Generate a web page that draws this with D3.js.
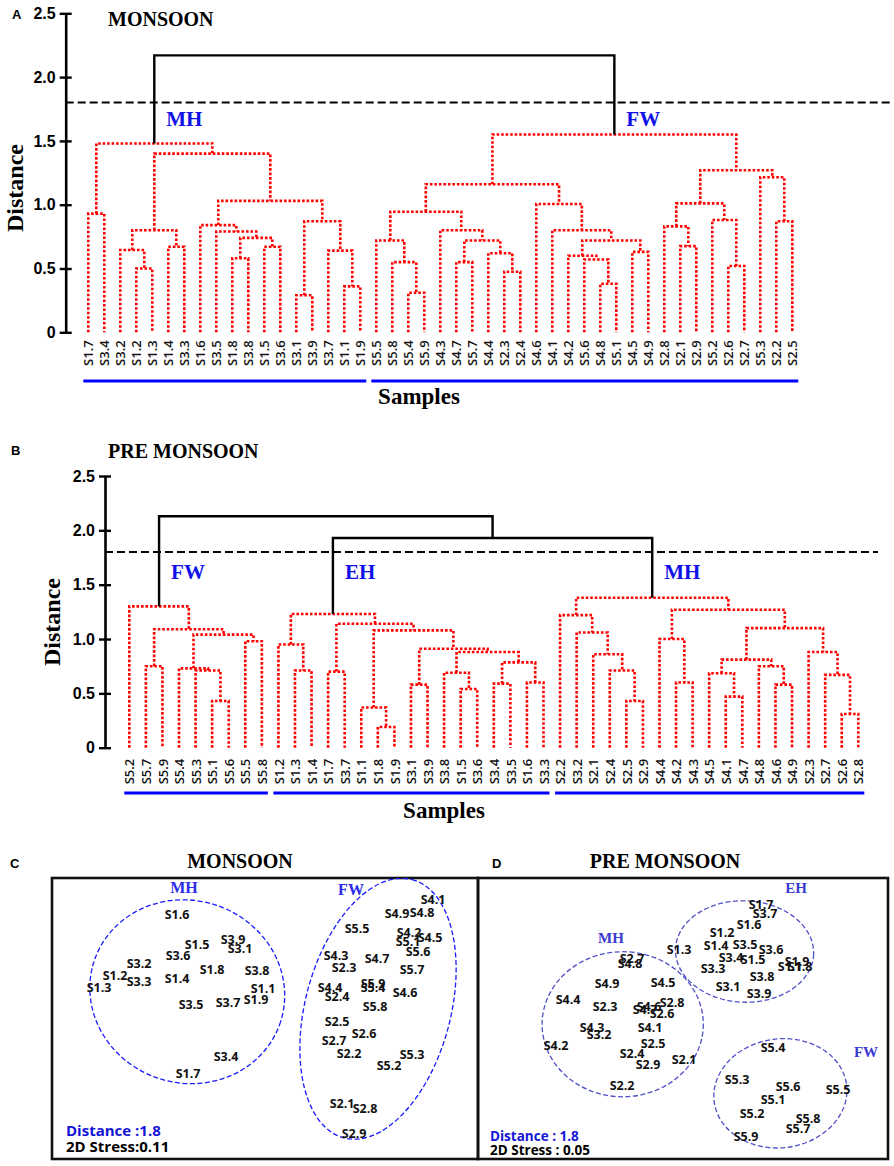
<!DOCTYPE html>
<html>
<head>
<meta charset="utf-8">
<script src="https://cdn.jsdelivr.net/npm/d3@7"></script>
<style>
  body { margin: 0; background: #fff; }
  svg { display: block; }
</style>
</head>
<body>
<svg id="fig" width="894" height="1166"></svg>
<script>
// ---------------- data ----------------
const distTicks = [0, 0.5, 1.0, 1.5, 2.0, 2.5];
const cutDistance = 1.8;

// A - monsoon dendrogram
const monsoonLeaves = ["S1.7","S3.4","S3.2","S1.2","S1.3","S1.4","S3.3","S1.6","S3.5","S1.8","S3.8","S1.5","S3.6","S3.1","S3.9","S3.7","S1.1","S1.9",
  "S5.5","S5.8","S5.4","S5.9","S4.3","S4.7","S5.7","S4.4","S2.3","S2.4","S4.6","S4.1","S4.2","S5.6","S4.8","S5.1","S4.5","S4.9",
  "S2.8","S2.1","S2.9","S5.2","S2.6","S2.7","S5.3","S2.2","S2.5"];
// [id, child, child, distance]
const monsoonMerges = [
  ["a1","S1.2","S1.3",0.50], ["a2","S3.2","a1",0.645], ["a3","S1.4","S3.3",0.67], ["a4","a2","a3",0.80],
  ["a5","S1.8","S3.8",0.58], ["a6","S1.5","S3.6",0.67], ["a7","a5","a6",0.74], ["a8","S3.5","a7",0.79],
  ["a9","S1.6","a8",0.84], ["a10","S3.1","S3.9",0.29], ["a11","S1.1","S1.9",0.36], ["a12","S3.7","a11",0.64],
  ["a13","a10","a12",0.87], ["a14","a9","a13",1.03], ["a15","a4","a14",1.40], ["a16","S1.7","S3.4",0.93],
  ["a17","a16","a15",1.48],
  ["b1","S5.4","S5.9",0.31], ["b2","S5.8","b1",0.55], ["b3","S5.5","b2",0.72], ["b4","S4.7","S5.7",0.55],
  ["b5","S2.3","S2.4",0.475], ["b6","S4.4","b5",0.62], ["b7","b4","b6",0.72], ["b8","S4.3","b7",0.80],
  ["b9","b3","b8",0.945], ["b10","S4.8","S5.1",0.38], ["b11","S5.6","b10",0.57], ["b12","S4.2","b11",0.60],
  ["b13","S4.5","S4.9",0.63], ["b14","b12","b13",0.72], ["b15","S4.1","b14",0.80], ["b16","S4.6","b15",1.005],
  ["b17","b9","b16",1.16], ["b18","S2.1","S2.9",0.675], ["b19","S2.8","b18",0.83], ["b20","S2.6","S2.7",0.52],
  ["b21","S5.2","b20",0.88], ["b22","b19","b21",1.01], ["b23","S2.2","S2.5",0.87], ["b24","S5.3","b23",1.215],
  ["b25","b22","b24",1.27], ["b26","b17","b25",1.55],
  ["top","a17","b26",2.17]
];
const monsoonUpper = ["top"];
const monsoonGroups = [["MH","a17"], ["FW","b26"]];

// B - pre monsoon dendrogram
const preLeaves = ["S5.2","S5.7","S5.9","S5.4","S5.3","S5.1","S5.6","S5.5","S5.8",
  "S1.2","S1.3","S1.4","S1.7","S3.7","S1.1","S1.8","S1.9","S3.1","S3.9","S3.8","S1.5","S3.6","S3.4","S3.5","S1.6","S3.3",
  "S2.2","S3.2","S2.1","S2.4","S2.5","S2.9","S4.4","S4.2","S4.3","S4.5","S4.1","S4.7","S4.8","S4.6","S4.9","S2.3","S2.7","S2.6","S2.8"];
const preMerges = [
  ["c1","S5.7","S5.9",0.75], ["c2","S5.1","S5.6",0.43], ["c3","S5.3","c2",0.71], ["c4","S5.4","c3",0.73],
  ["c5","S5.5","S5.8",0.98], ["c6","c4","c5",1.04], ["c7","c1","c6",1.09], ["c8","S5.2","c7",1.30],
  ["d1","S1.3","S1.4",0.71], ["d2","S1.2","d1",0.95], ["d3","S1.7","S3.7",0.70], ["d4","S1.8","S1.9",0.19],
  ["d5","S1.1","d4",0.37], ["d6","S3.1","S3.9",0.58], ["d7","S1.5","S3.6",0.54], ["d8","S3.8","d7",0.69],
  ["d9","S3.4","S3.5",0.59], ["d10","S1.6","S3.3",0.60], ["d11","d9","d10",0.785], ["d12","d8","d11",0.88],
  ["d13","d6","d12",0.91], ["d14","d5","d13",1.08], ["d15","d3","d14",1.14], ["d16","d2","d15",1.23],
  ["e1","S2.5","S2.9",0.43], ["e2","S2.4","e1",0.71], ["e3","S2.1","e2",0.86], ["e4","S3.2","e3",1.06],
  ["e5","S2.2","e4",1.22], ["e6","S4.2","S4.3",0.60], ["e7","S4.4","e6",1.00], ["e8","S4.1","S4.7",0.47],
  ["e9","S4.5","e8",0.685], ["e10","S4.6","S4.9",0.58], ["e11","S4.8","e10",0.75], ["e12","e9","e11",0.81],
  ["e13","S2.6","S2.8",0.31], ["e14","S2.7","e13",0.67], ["e15","S2.3","e14",0.88], ["e16","e12","e15",1.10],
  ["e17","e7","e16",1.27], ["e18","e5","e17",1.38],
  ["mid","d16","e18",1.93], ["top","c8","mid",2.13]
];
const preUpper = ["mid", "top"];
const preGroups = [["FW","c8"], ["EH","d16"], ["MH","e18"]];

// C - monsoon NMDS  [sample, group, dim1, dim2]
const monsoonNmds = [
  ["S1.6","MH",-0.88,1.04], ["S1.5","MH",-0.68,0.74], ["S3.9","MH",-0.32,0.79], ["S3.1","MH",-0.25,0.70],
  ["S3.6","MH",-0.87,0.63], ["S3.2","MH",-1.26,0.55], ["S1.8","MH",-0.53,0.49], ["S3.8","MH",-0.08,0.48],
  ["S1.2","MH",-1.50,0.43], ["S3.3","MH",-1.26,0.37], ["S1.4","MH",-0.88,0.40], ["S1.3","MH",-1.66,0.31],
  ["S1.1","MH",-0.02,0.30], ["S3.5","MH",-0.74,0.14], ["S3.7","MH",-0.37,0.16], ["S1.9","MH",-0.09,0.19],
  ["S3.4","MH",-0.39,-0.38], ["S1.7","MH",-0.77,-0.55],
  ["S4.1","FW",1.68,1.19], ["S4.9","FW",1.32,1.05], ["S4.8","FW",1.57,1.06], ["S5.5","FW",0.92,0.90],
  ["S4.2","FW",1.44,0.86], ["S5.1","FW",1.43,0.77], ["S4.5","FW",1.65,0.81], ["S5.6","FW",1.53,0.67],
  ["S4.3","FW",0.71,0.63], ["S4.7","FW",1.12,0.60], ["S2.3","FW",0.79,0.51], ["S5.7","FW",1.47,0.49],
  ["S4.4","FW",0.65,0.31], ["S5.9","FW",1.08,0.35], ["S5.4","FW",1.08,0.31], ["S4.6","FW",1.40,0.26],
  ["S2.4","FW",0.72,0.22], ["S5.8","FW",1.10,0.12], ["S2.5","FW",0.72,-0.03], ["S2.6","FW",0.99,-0.15],
  ["S2.7","FW",0.69,-0.22], ["S2.2","FW",0.84,-0.35], ["S5.3","FW",1.47,-0.36], ["S5.2","FW",1.24,-0.47],
  ["S2.1","FW",0.77,-0.85], ["S2.8","FW",1.00,-0.90], ["S2.9","FW",0.89,-1.15]
];
const monsoonNmdsGroups = [["MH",-0.81,1.31], ["FW",0.86,1.29]];
const monsoonStress = "0.11";

// D - pre monsoon NMDS
const preNmds = [
  ["S1.7","EH",0.78,1.14], ["S3.7","EH",0.82,1.05], ["S1.6","EH",0.66,0.94], ["S1.2","EH",0.39,0.86],
  ["S1.4","EH",0.33,0.73], ["S3.5","EH",0.62,0.74], ["S3.6","EH",0.88,0.69], ["S1.3","EH",-0.04,0.69],
  ["S3.4","EH",0.48,0.61], ["S1.5","EH",0.70,0.59], ["S1.9","EH",1.14,0.57], ["S1.1","EH",1.07,0.52],
  ["S1.8","EH",1.17,0.52], ["S3.3","EH",0.30,0.50], ["S3.8","EH",0.79,0.42], ["S3.1","EH",0.45,0.32],
  ["S3.9","EH",0.76,0.25],
  ["S2.7","MH",-0.51,0.60], ["S4.8","MH",-0.53,0.55], ["S4.9","MH",-0.76,0.35], ["S4.5","MH",-0.20,0.36],
  ["S4.4","MH",-1.15,0.19], ["S2.3","MH",-0.78,0.12], ["S4.6","MH",-0.34,0.12], ["S4.7","MH",-0.38,0.09],
  ["S2.8","MH",-0.11,0.16], ["S2.6","MH",-0.21,0.05], ["S4.3","MH",-0.91,-0.09], ["S3.2","MH",-0.84,-0.16],
  ["S4.1","MH",-0.33,-0.09], ["S4.2","MH",-1.27,-0.27], ["S2.5","MH",-0.30,-0.25], ["S2.4","MH",-0.51,-0.35],
  ["S2.9","MH",-0.35,-0.46], ["S2.1","MH",0.01,-0.41], ["S2.2","MH",-0.61,-0.67],
  ["S5.4","FW",0.90,-0.29], ["S5.3","FW",0.54,-0.61], ["S5.6","FW",1.05,-0.68], ["S5.5","FW",1.55,-0.71],
  ["S5.1","FW",0.90,-0.81], ["S5.2","FW",0.69,-0.95], ["S5.8","FW",1.25,-1.00], ["S5.7","FW",1.15,-1.10],
  ["S5.9","FW",0.63,-1.18]
];
const preNmdsGroups = [["EH",1.13,1.30], ["MH",-0.72,0.80], ["FW",1.83,-0.34]];
const preStress = "0.05";

// ---------------- drawing ----------------
const svg = d3.select("#fig");
const SERIF = "'Liberation Serif', 'Times New Roman', serif";
const SANS = "'Liberation Sans', Arial, sans-serif";
const LABEL = "'Open Sans', 'Liberation Sans', sans-serif";

function dendrogram(o) {
  const g = svg.append("g");
  const x = d3.scalePoint().domain(o.leaves).range(o.xRange);
  const y = d3.scaleLinear().domain([0, 2.5]).range(o.yRange);

  const pos = new Map();
  o.leaves.forEach(l => pos.set(l, {x: x(l), h: 0, leaves: [l]}));

  o.merges.forEach(([id, a, b, h]) => {
    const A = pos.get(a), B = pos.get(b);
    pos.set(id, {x: (A.x + B.x) / 2, h: h, leaves: A.leaves.concat(B.leaves)});
    const black = o.upper.includes(id);
    g.append("path")
      .attr("d", "M" + A.x + "," + y(A.h) + "V" + y(h) + "H" + B.x + "V" + y(B.h))
      .attr("fill", "none")
      .attr("stroke", black ? "#000" : "#ff0000")
      .attr("stroke-width", black ? 2.4 : 2.6)
      .attr("stroke-dasharray", black ? null : "2.6,1.9");
  });

  // cut line
  g.append("line")
    .attr("x1", o.axisX).attr("x2", o.cutEnd)
    .attr("y1", y(cutDistance)).attr("y2", y(cutDistance))
    .attr("stroke", "#000").attr("stroke-width", 2)
    .attr("stroke-dasharray", "8,4");

  // y axis
  const ax = g.append("g")
    .attr("transform", "translate(" + o.axisX + ",0)")
    .call(d3.axisLeft(y).tickValues(distTicks)
      .tickFormat(d => d === 0 ? "0" : d.toFixed(1))
      .tickSizeOuter(0).tickSizeInner(6).tickPadding(4));
  ax.select(".domain").attr("stroke", "#000").attr("stroke-width", 2.6);
  ax.selectAll(".tick line").attr("x1", 6).attr("stroke", "#000").attr("stroke-width", 2.4);
  ax.selectAll(".tick text")
    .attr("fill", "#000")
    .style("font-family", SANS).style("font-weight", "bold").style("font-size", "16px");

  // leaf labels
  const bx = g.append("g")
    .attr("transform", "translate(0," + y(0) + ")")
    .call(d3.axisBottom(x).tickSize(0));
  bx.select(".domain").remove();
  bx.selectAll(".tick text")
    .attr("transform", "rotate(-90)")
    .attr("text-anchor", "end")
    .attr("x", -o.leafPad).attr("y", 0).attr("dy", "0.36em")
    .attr("fill", "#111")
    .style("font-family", LABEL).style("font-weight", "600").style("font-size", "13px");

  // group labels and underlines
  o.groups.forEach(([name, id]) => {
    const n = pos.get(id);
    g.append("text")
      .attr("x", n.x + 12).attr("y", y(cutDistance) + o.groupDy)
      .attr("fill", "#1010e8")
      .style("font-family", SERIF).style("font-weight", "bold").style("font-size", "21px")
      .text(name);
    const xs = n.leaves.map(l => x(l));
    g.append("line")
      .attr("x1", d3.min(xs) - 5).attr("x2", d3.max(xs) + 6)
      .attr("y1", o.underlineY).attr("y2", o.underlineY)
      .attr("stroke", "#0000ff").attr("stroke-width", 3);
  });

  // titles
  g.append("text").attr("x", o.letterPos[0]).attr("y", o.letterPos[1])
    .style("font-family", SANS).style("font-weight", "bold").style("font-size", "13px")
    .text(o.letter);
  g.append("text").attr("x", o.titlePos[0]).attr("y", o.titlePos[1])
    .style("font-family", SERIF).style("font-weight", "bold").style("font-size", "20px")
    .text(o.title);
  g.append("text")
    .attr("transform", "translate(" + o.yLabelPos[0] + "," + o.yLabelPos[1] + ") rotate(-90)")
    .attr("text-anchor", "middle")
    .style("font-family", SERIF).style("font-weight", "bold").style("font-size", "24px")
    .text("Distance");
  g.append("text").attr("x", o.xLabelPos[0]).attr("y", o.xLabelPos[1])
    .attr("text-anchor", "middle")
    .style("font-family", SERIF).style("font-weight", "bold").style("font-size", "23px")
    .text("Samples");
}

// ellipse with the same area moments as a polygon (uniform density)
function inertiaEllipse(poly) {
  const mx = d3.mean(poly, p => p[0]), my = d3.mean(poly, p => p[1]);
  const P = poly.map(p => [p[0] - mx, p[1] - my]);
  let A = 0, cx = 0, cy = 0, ixx = 0, iyy = 0, ixy = 0;
  P.forEach((p, i) => {
    const [x0, y0] = p, [x1, y1] = P[(i + 1) % P.length];
    const c = x0 * y1 - x1 * y0;
    A += c;
    cx += (x0 + x1) * c;
    cy += (y0 + y1) * c;
    ixx += (x0 * x0 + x0 * x1 + x1 * x1) * c;
    iyy += (y0 * y0 + y0 * y1 + y1 * y1) * c;
    ixy += (x0 * y1 + 2 * x0 * y0 + 2 * x1 * y1 + x1 * y0) * c;
  });
  A /= 2;
  cx /= 6 * A; cy /= 6 * A;
  const sxx = ixx / 12 / A - cx * cx, syy = iyy / 12 / A - cy * cy, sxy = ixy / 24 / A - cx * cy;
  const tr = (sxx + syy) / 2, dd = Math.sqrt(((sxx - syy) / 2) ** 2 + sxy * sxy);
  return {
    cx: cx + mx, cy: cy + my,
    r1: 2 * Math.sqrt(tr + dd), r2: 2 * Math.sqrt(Math.max(tr - dd, 0)),
    angle: 0.5 * Math.atan2(2 * sxy, sxx - syy) * 180 / Math.PI
  };
}

function nmds(o) {
  const g = svg.append("g");
  const x = d3.scaleLinear().domain(o.xDomain).range([o.frame[0], o.frame[0] + o.frame[2]]);
  const y = d3.scaleLinear().domain([1.40, -1.41]).range([o.frame[1], o.frame[1] + o.frame[3]]);

  g.append("rect")
    .attr("x", o.frame[0]).attr("y", o.frame[1])
    .attr("width", o.frame[2]).attr("height", o.frame[3])
    .attr("fill", "none").attr("stroke", "#111").attr("stroke-width", 2.6);

  // group envelopes from the hull of the sample labels
  o.envelopes.forEach(([name, hw, hh, extra]) => {
    const box = [];
    o.points.filter(p => p[1] === name).forEach(p => {
      const px = x(p[2]), py = y(p[3]);
      [[-hw, -hh], [hw, -hh], [hw, hh], [-hw, hh]].forEach(([dx, dy]) => box.push([px + dx, py + dy]));
    });
    const e = inertiaEllipse(d3.polygonHull(box));
    g.append("ellipse")
      .attr("cx", e.cx).attr("cy", e.cy)
      .attr("rx", e.r1 + extra).attr("ry", e.r2 + extra)
      .attr("transform", "rotate(" + e.angle + "," + e.cx + "," + e.cy + ")")
      .attr("fill", "none")
      .attr("stroke", o.hullColor).attr("stroke-width", 1.3)
      .attr("stroke-dasharray", "5,2.5");
  });

  g.selectAll("text.pt")
    .data(o.points)
    .enter().append("text")
    .attr("class", "pt")
    .attr("x", d => x(d[2])).attr("y", d => y(d[3]))
    .attr("dy", "0.36em")
    .attr("text-anchor", "middle")
    .attr("fill", "#111")
    .style("font-family", LABEL).style("font-weight", "bold").style("font-size", "12.5px")
    .text(d => d[0]);

  g.selectAll("text.grp")
    .data(o.groupLabels)
    .enter().append("text")
    .attr("class", "grp")
    .attr("x", d => x(d[1])).attr("y", d => y(d[2]))
    .attr("dy", "0.36em")
    .attr("text-anchor", "middle")
    .attr("fill", o.groupColor)
    .style("font-family", SERIF).style("font-weight", "bold").style("font-size", o.groupSize + "px")
    .text(d => d[0]);

  g.append("text")
    .attr("x", o.frame[0] + o.noteX).attr("y", o.frame[1] + o.frame[3] - o.noteDy[0])
    .attr("fill", "#1515d6")
    .style("font-family", LABEL).style("font-weight", "bold").style("font-size", o.noteSize + "px")
    .text(o.distText);
  g.append("text")
    .attr("x", o.frame[0] + o.noteX).attr("y", o.frame[1] + o.frame[3] - o.noteDy[1])
    .attr("fill", "#000")
    .style("font-family", LABEL).style("font-weight", "bold").style("font-size", o.noteSize + "px")
    .text(o.stressText);

  g.append("text").attr("x", o.letterPos[0]).attr("y", o.letterPos[1])
    .style("font-family", SANS).style("font-weight", "bold").style("font-size", "13px")
    .text(o.letter);
  g.append("text").attr("x", o.frame[0] + o.titleX).attr("y", o.frame[1] - 10)
    .attr("text-anchor", "middle")
    .style("font-family", SERIF).style("font-weight", "bold").style("font-size", "20px")
    .text(o.title);
}

dendrogram({
  leaves: monsoonLeaves, merges: monsoonMerges, upper: monsoonUpper, groups: monsoonGroups,
  xRange: [88.3, 792.3], yRange: [332.3, 13.3], axisX: 65.7, cutEnd: 891,
  leafPad: 8, groupDy: 23, underlineY: 381,
  letter: "A", letterPos: [12, 19], title: "MONSOON", titlePos: [108, 26],
  yLabelPos: [23, 188], xLabelPos: [419, 404]
});

dendrogram({
  leaves: preLeaves, merges: preMerges, upper: preUpper, groups: preGroups,
  xRange: [129.3, 858.3], yRange: [747.7, 476], axisX: 105, cutEnd: 878,
  leafPad: 11, groupDy: 27, underlineY: 793,
  letter: "B", letterPos: [11, 455], title: "PRE MONSOON", titlePos: [108, 458],
  yLabelPos: [60, 622], xLabelPos: [444, 818]
});

nmds({
  points: monsoonNmds, groupLabels: monsoonNmdsGroups,
  frame: [52, 878, 426, 281], xDomain: [-2.13, 2.13],
  envelopes: [["MH", 13, 6, 11], ["FW", 22, 6, 4]],
  hullColor: "#1a1aff", groupColor: "#2a2ae8", groupSize: 16,
  noteX: 14, noteDy: [23, 7], noteSize: 15,
  distText: "Distance :" + cutDistance, stressText: "2D Stress:" + monsoonStress,
  letter: "C", letterPos: [10, 868], title: "MONSOON", titleX: 188
});

nmds({
  points: preNmds, groupLabels: preNmdsGroups,
  frame: [478, 878, 410, 281], xDomain: [-2.05, 2.05],
  envelopes: [["EH", 11, 5, 4], ["MH", 13, 5, 6], ["FW", 13, 6, 5]],
  hullColor: "#5050c8", groupColor: "#3a3ad0", groupSize: 15,
  noteX: 12, noteDy: [18, 4], noteSize: 13.5,
  distText: "Distance : " + cutDistance, stressText: "2D Stress : " + preStress,
  letter: "D", letterPos: [492, 868], title: "PRE MONSOON", titleX: 187
});
</script>
</body>
</html>
